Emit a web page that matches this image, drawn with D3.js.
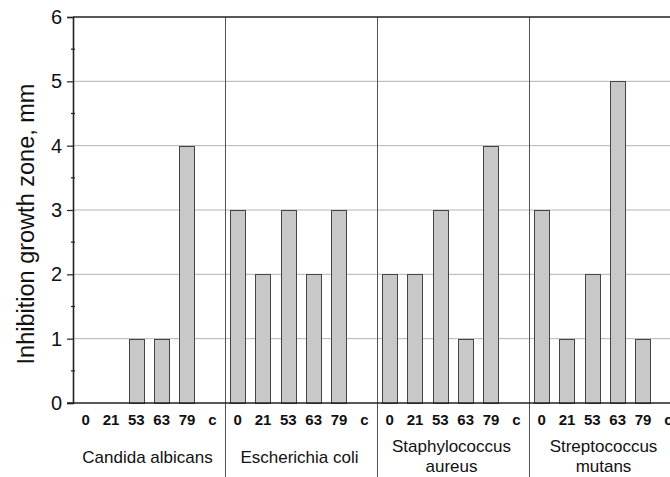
<!DOCTYPE html>
<html><head><meta charset="utf-8">
<script src="https://cdn.jsdelivr.net/npm/d3@7"></script>
<style>body{margin:0;background:#fff;overflow:hidden}svg{display:block}</style>
</head><body>
<svg id="c" width="670" height="477"></svg>
<script>
const groups = [["Candida albicans"], ["Escherichia coli"], ["Staphylococcus", "aureus"], ["Streptococcus", "mutans"]];
const categories = ["0", "21", "53", "63", "79", "c"];
const candida = [0, 0, 1, 1, 4, 0];
const ecoli = [3, 2, 3, 2, 3, 0];
const staph = [2, 2, 3, 1, 4, 0];
const strep = [3, 1, 2, 5, 1, 0];
const yTicks = [0, 1, 2, 3, 4, 5, 6];
const yLabel = "Inhibition growth zone, mm";

const series = [candida, ecoli, staph, strep];
const rows = [];
series.forEach((s, gi) => s.forEach((v, ci) => rows.push({key: gi + "_" + ci, g: gi, cat: categories[ci], v})));

const FONT = "Arial, 'Liberation Sans', sans-serif";
const svg = d3.select("#c");
const L = 73, R = 681, T = 17, B = 403;
const x = d3.scaleBand().domain(rows.map(d => d.key)).range([L, R]).paddingInner(0.4).paddingOuter(0.2);
const xg = d3.scaleBand().domain(d3.range(groups.length)).range([L, R]);
const y = d3.scaleLinear().domain([0, 6]).range([B, T]);

// gridlines
svg.append("g").selectAll("line").data(yTicks.filter(t => t > 0 && t < 6)).join("line")
  .attr("x1", L).attr("x2", R).attr("y1", d => y(d)).attr("y2", d => y(d))
  .attr("stroke", "#b4b4b4").attr("stroke-width", 1);

// group separators
svg.append("g").selectAll("line").data(d3.range(1, groups.length)).join("line")
  .attr("x1", d => xg(d) + 0.5).attr("x2", d => xg(d) + 0.5).attr("y1", T).attr("y2", 477)
  .attr("stroke", "#555").attr("stroke-width", 1);

// bars
svg.append("g").selectAll("rect").data(rows.filter(d => d.v > 0)).join("rect")
  .attr("x", d => Math.round(x(d.key)) + 0.5).attr("width", Math.round(x.bandwidth()))
  .attr("y", d => Math.round(y(d.v)) + 0.5).attr("height", d => Math.round(y(0)) - Math.round(y(d.v)))
  .attr("fill", "#c8c8c8").attr("stroke", "#444").attr("stroke-width", 1);

// top border
svg.append("line").attr("x1", L).attr("x2", R).attr("y1", T).attr("y2", T)
  .attr("stroke", "#222").attr("stroke-width", 1.6);

// y axis
const yAxis = d3.axisLeft(y).tickValues(yTicks).tickFormat(d3.format("d")).tickSize(6).tickPadding(5);
const yg = svg.append("g").attr("transform", `translate(${L},0)`).call(yAxis);
yg.select(".domain").attr("stroke", "#222").attr("stroke-width", 1.6);
yg.selectAll(".tick line").attr("stroke", "#222").attr("stroke-width", 1.2);
yg.selectAll("text").attr("font-family", FONT).attr("font-size", 20).attr("fill", "#111");
// minor ticks
svg.append("g").selectAll("line").data(d3.range(0.5, 6, 1)).join("line")
  .attr("x1", L - 2).attr("x2", L + 2).attr("y1", d => y(d)).attr("y2", d => y(d))
  .attr("stroke", "#222").attr("stroke-width", 1.2);

// x axis line
svg.append("line").attr("x1", L - 6).attr("x2", R).attr("y1", B).attr("y2", B)
  .attr("stroke", "#222").attr("stroke-width", 1.6);

// category labels
svg.append("g").selectAll("text").data(rows).join("text")
  .attr("x", d => x(d.key) + x.bandwidth() / 2).attr("y", 425)
  .attr("text-anchor", "middle").attr("font-family", FONT)
  .attr("font-weight", "bold").attr("font-size", 15).attr("fill", "#111").text(d => d.cat);

// group labels
const gl = svg.append("g").selectAll("text").data(groups).join("text")
  .attr("text-anchor", "middle").attr("font-family", FONT)
  .attr("font-size", 17).attr("fill", "#111")
  .attr("x", (d, i) => xg(i) + xg.bandwidth() / 2 - 1.5)
  .attr("y", d => d.length === 1 ? 463 : 452);
gl.selectAll("tspan").data(d => d).join("tspan")
  .attr("x", function() { return d3.select(this.parentNode).attr("x"); })
  .attr("dy", (d, i) => i === 0 ? 0 : 20).text(d => d);

// y label
svg.append("text").attr("transform", `translate(34,224) rotate(-90)`)
  .attr("text-anchor", "middle").attr("font-family", FONT)
  .attr("font-size", 23.5).attr("fill", "#111").text(yLabel);
</script>
</body></html>
